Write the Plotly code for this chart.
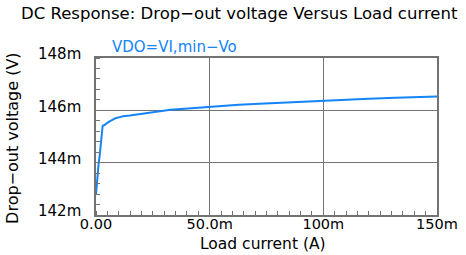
import plotly.graph_objects as go

# Load current (mA) and drop-out voltage (mV)
load_current_mA = [0, 0.59, 1.17, 1.6, 2.05, 2.5, 2.93, 3.5, 4.25, 5.3, 6.4, 7.6, 8.6, 10.4, 11.9,
                   14.9, 18.2, 21.1, 24.3, 27, 29.9, 32.8, 39, 44.8, 50.7, 57, 62.8, 71.9, 80.9,
                   89.9, 98.7, 108.3, 120, 131.7, 143.7, 150]
dropout_mV = [142.79, 143.57, 143.98, 144.26, 144.62, 145.03, 145.41, 145.43, 145.49, 145.54, 145.60,
              145.66, 145.70, 145.74, 145.77, 145.80, 145.84, 145.88, 145.92, 145.96, 146.00, 146.02,
              146.06, 146.10, 146.14, 146.17, 146.21, 146.25, 146.29, 146.33, 146.37, 146.40, 146.44,
              146.48, 146.52, 146.53]

x_tickvals = [0, 50, 100, 150]
x_ticktext = ["0.00", "50.0m", "100m", "150m"]
y_tickvals = [142, 144, 146, 148]
y_ticktext = ["142m", "144m", "146m", "148m"]

title_text = "DC Response: Drop\u2212out voltage Versus Load current"
legend_text = "VDO=VI,min\u2212Vo"
x_title = "Load current (A)"
y_title = "Drop\u2212out voltage (V)"

blue = "#1484f8"
gray = "#737373"
font = "DejaVu Sans"

L, R, T, B = 95.5, 436.7, 58.3, 215.0
W, H = 466, 255


def px(x):
    return (x - L) / (R - L)


def py(y):
    return (B - y) / (B - T)


fig = go.Figure()
fig.add_trace(go.Scatter(x=load_current_mA, y=dropout_mV, mode="lines",
                         line=dict(color=blue, width=2), showlegend=False))

fig.update_layout(
    width=W, height=H,
    margin=dict(l=L, r=W - R, t=T, b=H - B, autoexpand=False),
    paper_bgcolor="white", plot_bgcolor="white",
    font=dict(family=font, size=15, color="black"),
    title=dict(text=title_text, x=21 / W, xanchor="left", xref="container",
               y=1 - 13.5 / H, yanchor="middle", yref="container",
               font=dict(family=font, size=16.5, color="black")),
    annotations=[
        dict(text=legend_text, xref="paper", yref="paper", x=px(110), xanchor="left",
             y=py(47.5), yanchor="middle", showarrow=False,
             font=dict(family=font, size=15, color=blue)),
        dict(text=x_title, xref="paper", yref="paper", x=px(263), xanchor="center",
             y=py(244), yanchor="middle", showarrow=False,
             font=dict(family=font, size=15.5, color="black")),
        dict(text=y_title, xref="paper", yref="paper", x=px(12.5), xanchor="center",
             y=py(139), yanchor="middle", showarrow=False, textangle=-90,
             font=dict(family=font, size=16, color="black")),
    ],
)

fig.update_xaxes(range=[0, 150], tickvals=x_tickvals, ticktext=x_ticktext,
                 showgrid=True, gridcolor=gray, gridwidth=1.3,
                 showline=True, linecolor=gray, linewidth=1.5, mirror=True,
                 ticks="", zeroline=False, automargin=False,
                 ticklabelstandoff=-5,
                 minor=dict(dtick=5, ticks="inside", ticklen=4, tickcolor=gray, showgrid=False),
                 tickfont=dict(family=font, size=14.5))
fig.update_yaxes(range=[142, 148], tickvals=y_tickvals, ticktext=y_ticktext,
                 showgrid=True, gridcolor=gray, gridwidth=1.3,
                 showline=True, linecolor=gray, linewidth=1.5, mirror=True,
                 ticks="", zeroline=False, automargin=False,
                 ticklabelshift=-4, ticklabelstandoff=10,
                 minor=dict(dtick=0.4, ticks="inside", ticklen=4, tickcolor=gray, showgrid=False),
                 tickfont=dict(family=font, size=15))

fig.write_html("out.html", config={"displayModeBar": False},
               post_script="document.body.style.margin='0';")
